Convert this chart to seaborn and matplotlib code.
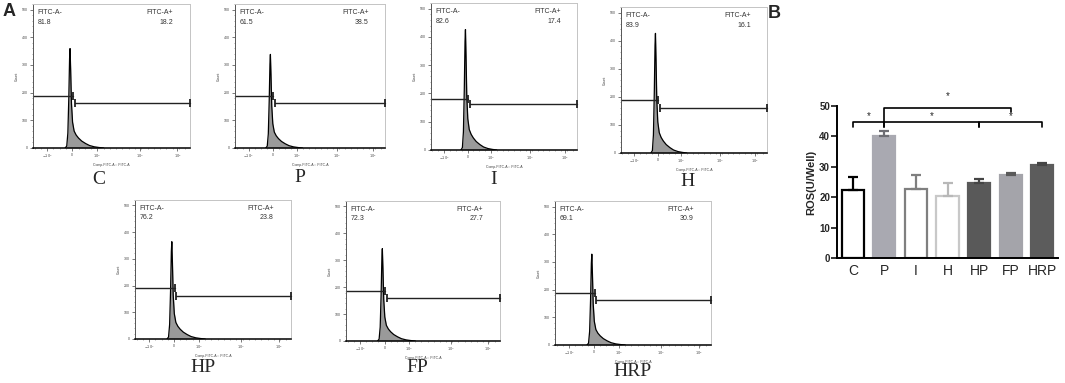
import numpy as np
import matplotlib
matplotlib.use('Agg')
import matplotlib.pyplot as plt
import seaborn as sns

# ---- data ----
samples = ['C', 'P', 'I', 'H', 'HP', 'FP', 'HRP']
fitc_neg = [81.8, 61.5, 82.6, 83.9, 76.2, 72.3, 69.1]
fitc_pos = [18.2, 38.5, 17.4, 16.1, 23.8, 27.7, 30.9]
peak_counts = [359, 338, 426, 426, 364, 343, 328]
gate_neg_level = [187, 187, 182, 187, 192, 187, 187]
gate_pos_level = [161, 161, 161, 161, 161, 161, 161]

# shared histogram outline (relative to peak), x in display units of the FITC axis
hist_x = [0.205, 0.215, 0.222, 0.228, 0.233, 0.236, 0.240, 0.245, 0.252, 0.262,
          0.275, 0.290, 0.310, 0.335, 0.360, 0.390, 0.420, 0.450]
hist_y = [0.0, 0.02, 0.15, 0.5, 0.9, 1.0, 0.78, 0.45, 0.26, 0.17,
          0.13, 0.10, 0.07, 0.045, 0.025, 0.012, 0.005, 0.0]
gate_split = [0.255, 0.265]

fitc_ticks = [0.09, 0.25, 0.41, 0.68, 0.92]
fitc_ticklabels = [r'$-10^2$', '0', r'$10^3$', r'$10^4$', r'$10^5$']
count_ticks = [0, 100, 200, 300, 400, 500]

groups = ['C', 'P', 'I', 'H', 'HP', 'FP', 'HRP']
ros_mean = [22.5, 40.2, 22.7, 20.5, 24.7, 27.4, 30.7]
ros_sd = [4.3, 1.5, 4.6, 4.3, 1.2, 0.4, 0.6]
bar_fill = ['#ffffff', '#a9a9b1', '#ffffff', '#ffffff', '#595959', '#a4a4aa', '#5c5c5c']
bar_edge = ['#000000', '#a9a9b1', '#7f7f7f', '#c8c8c8', '#595959', '#a4a4aa', '#5c5c5c']
err_color = ['#000000', '#6e6e74', '#7f7f7f', '#b8b8b8', '#454545', '#5a5a5a', '#454545']

# significance: (group a, group b, bracket level, tick bottom a, tick bottom b, star level)
sig_pairs = [(0, 1, 44.8, 43.2, 43.2, 46.8),
             (1, 4, 44.8, 43.2, 43.2, 46.8),
             (4, 6, 44.8, 43.2, 43.2, 46.8),
             (1, 5, 49.2, 44.8, 48.0, 53.4)]

# ---- layout (pixel boxes: x0, y0, x1, y1) ----
W, H = 1065, 383
panel_boxes = [(33, 4, 190, 148), (235, 4, 385, 148), (431, 3, 577, 150), (621, 7, 767, 153),
               (135, 200, 291, 339), (346, 201, 500, 341), (555, 201, 711, 345)]
label_pos = [(99, 180), (300, 177), (494, 179), (688, 182), (203, 367), (417, 368), (632, 371)]


def box(x0, y0, x1, y1):
    return [x0 / W, 1 - y1 / H, (x1 - x0) / W, (y1 - y0) / H]


sns.set_style('white')
plt.rcParams['font.family'] = ['Liberation Sans', 'DejaVu Sans']

fig = plt.figure(figsize=(10.65, 3.83), dpi=100)

# ---- panel A: histograms ----
for i, name in enumerate(samples):
    ax = fig.add_axes(box(*panel_boxes[i]))
    ys = [v * peak_counts[i] for v in hist_y]
    ax.fill_between(hist_x, ys, color='#9a9a9a', lw=0)
    sns.lineplot(x=hist_x, y=ys, ax=ax, color='black', lw=0.9, sort=False)
    ax.set_xlim(0, 1)
    ax.set_ylim(0, 520)

    # gates
    ax.plot([0, gate_split[0]], [gate_neg_level[i]] * 2, color='#222222', lw=1.0,
            marker='|', markersize=6, mew=1.3, markevery=[1], clip_on=False)
    ax.plot([gate_split[1], 1], [gate_pos_level[i]] * 2, color='#222222', lw=1.0,
            marker='|', markersize=6, mew=1.3, clip_on=False, zorder=5)

    ax.text(0.03, 0.94, 'FITC-A-', transform=ax.transAxes, fontsize=5, color='#333333', va='center')
    ax.text(0.03, 0.875, f'{fitc_neg[i]:.1f}', transform=ax.transAxes, fontsize=5, color='#333333', va='center')
    ax.text(0.89, 0.94, 'FITC-A+', transform=ax.transAxes, fontsize=5, color='#333333', va='center', ha='right')
    ax.text(0.89, 0.875, f'{fitc_pos[i]:.1f}', transform=ax.transAxes, fontsize=5, color='#333333', va='center', ha='right')

    ax.set_xticks(fitc_ticks)
    ax.set_xticklabels(fitc_ticklabels)
    ax.set_yticks(count_ticks)
    ax.set_yticklabels([str(t) for t in count_ticks])
    ax.tick_params(axis='both', labelsize=2.5, length=2, width=0.5, pad=1.5, colors='#444444',
                   direction='out', left=True, bottom=True)
    ax.minorticks_on()
    ax.tick_params(which='minor', length=1, width=0.4, left=True, bottom=True, colors='#666666')
    ax.set_xlabel('Comp-FITC-A :: FITC-A', fontsize=2.5, labelpad=2, color='#444444')
    ax.set_ylabel('Count', fontsize=2.5, labelpad=2, color='#444444')
    for side in ['top', 'right']:
        ax.spines[side].set_color('#c4c4c4')
        ax.spines[side].set_linewidth(0.7)
    ax.spines['left'].set_color('#555555')
    ax.spines['left'].set_linewidth(0.7)
    ax.spines['bottom'].set_color('black')
    ax.spines['bottom'].set_linewidth(1.1)

    fig.text(label_pos[i][0] / W, 1 - label_pos[i][1] / H, name, ha='center', va='center',
             fontsize=14, family='Liberation Serif')

# ---- panel B: ROS bar chart ----
axb = fig.add_axes(box(837, 106, 1058, 258))
sns.barplot(x=groups, y=ros_mean, hue=groups, palette=bar_fill, legend=False,
            width=0.7, ax=axb, errorbar=None, saturation=1)
for patch, ec in zip(axb.patches, bar_edge):
    patch.set_edgecolor(ec)
    patch.set_linewidth(1.6)
for i in range(len(groups)):
    axb.errorbar(i, ros_mean[i], yerr=[[0], [ros_sd[i]]], color=err_color[i],
                 lw=1.6, capsize=3.5, capthick=1.6)

for a, b, lvl, ta, tb, star in sig_pairs:
    axb.plot([a, a, b, b], [ta, lvl, lvl, tb], color='black', lw=1.2, clip_on=False)
    axb.text((a + b) / 2, star, '*', ha='center', va='center', fontsize=7, clip_on=False)

axb.set_xlim(-0.5, 6.5)
axb.set_ylim(0, 50)
axb.set_yticks([0, 10, 20, 30, 40, 50])
axb.tick_params(axis='y', labelsize=7, length=4, width=1.3, pad=1, left=True)
axb.tick_params(axis='x', labelsize=10, length=0, pad=4)
for lab in axb.get_yticklabels():
    lab.set_fontweight('bold')
axb.set_ylabel('ROS(U/Well)', fontsize=8, fontweight='bold', labelpad=2)
axb.set_xlabel('')
sns.despine(ax=axb)
axb.spines['left'].set_linewidth(1.4)
axb.spines['bottom'].set_linewidth(1.4)
axb.spines['left'].set_color('black')
axb.spines['bottom'].set_color('black')

fig.text(3 / W, 1 - 12 / H, 'A', fontsize=13, fontweight='bold', va='center')
fig.text(768 / W, 1 - 13 / H, 'B', fontsize=13, fontweight='bold', va='center')

fig.savefig('out.png', dpi=100)
